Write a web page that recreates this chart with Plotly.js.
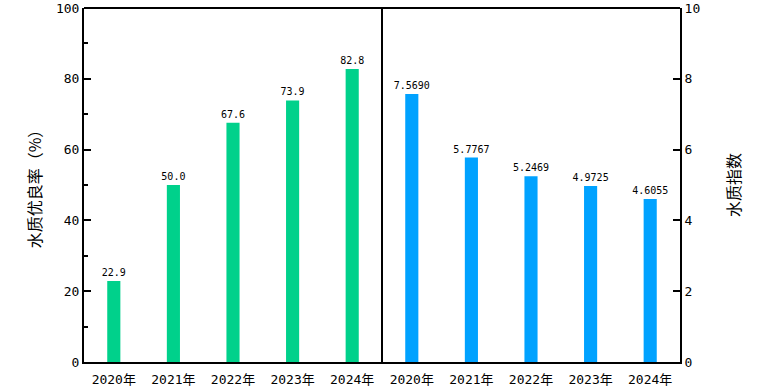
<!DOCTYPE html>
<html><head><meta charset="utf-8">
<script src="https://cdn.plot.ly/plotly-3.0.1.min.js"></script>
<style>html,body{margin:0;padding:0;background:#fff}#chart{width:762px;height:388px}</style>
</head><body><div id="chart"></div>
<script>
const years = ["2020年","2021年","2022年","2023年","2024年"];
const rateValues = [22.9, 50.0, 67.6, 73.9, 82.8];
const rateLabels = ["22.9","50.0","67.6","73.9","82.8"];
const indexValues = [7.5690, 5.7767, 5.2469, 4.9725, 4.6055];
const indexLabels = ["7.5690","5.7767","5.2469","4.9725","4.6055"];
const rateTicks = [0, 20, 40, 60, 80, 100];
const indexTicks = [0, 2, 4, 6, 8, 10];

const cjkFont = "Noto Sans CJK SC, Noto Sans, sans-serif";
const tickFamily = "DejaVu Sans Mono, Noto Sans CJK SC, monospace";
const labelFont = {family: "DejaVu Sans Mono, Liberation Mono, monospace", size: 10, color: "#000"};

const traces = [
  {type: "bar", x: years, y: rateValues, text: rateLabels, textposition: "outside", constraintext: "none",
   textfont: labelFont, cliponaxis: false, marker: {color: "#00D18B"}, width: 0.22,
   xaxis: "x", yaxis: "y", hoverinfo: "none"},
  {type: "bar", x: years, y: indexValues, text: indexLabels, textposition: "outside", constraintext: "none",
   textfont: labelFont, cliponaxis: false, marker: {color: "#00A2FF"}, width: 0.22,
   xaxis: "x2", yaxis: "y2", hoverinfo: "none"}
];

const axisCommon = {showline: true, linecolor: "#000", linewidth: 2, showgrid: false, zeroline: false,
  ticklabeloverflow: "allow", tickfont: {family: tickFamily, size: 13, color: "#000"}};

const layout = {
  width: 762, height: 388,
  margin: {l: 84, r: 82, t: 8, b: 26, pad: 0},
  paper_bgcolor: "#fff", plot_bgcolor: "#fff",
  showlegend: false,
  font: {family: cjkFont, color: "#000"},
  xaxis: Object.assign({}, axisCommon, {domain: [0, 0.5], anchor: "y", ticks: "", type: "category", ticklabelstandoff: 4}),
  xaxis2: Object.assign({}, axisCommon, {domain: [0.5, 1], anchor: "y2", ticks: "", type: "category", ticklabelstandoff: 4}),
  yaxis: Object.assign({}, axisCommon, {anchor: "x", range: [0, 100], tickmode: "array", tickvals: rateTicks,
    ticks: "inside", ticklen: 7, tickwidth: 2, tickcolor: "#000",
    minor: {dtick: 10, ticks: "inside", ticklen: 4, tickwidth: 2, tickcolor: "#000"},
    title: {text: "水质优良率（%）", font: {family: cjkFont, size: 16, color: "#000"}, standoff: 10}}),
  yaxis2: Object.assign({}, axisCommon, {anchor: "x2", side: "right", range: [0, 10], tickmode: "array", tickvals: indexTicks,
    ticks: "inside", ticklen: 7, tickwidth: 2, tickcolor: "#000",
    title: {text: "水质指数", font: {family: cjkFont, size: 16, color: "#000"}, standoff: 30}}),
  shapes: [
    {type: "line", xref: "paper", yref: "paper", x0: 0, x1: 1, y0: 1, y1: 1, line: {color: "#000", width: 2}},
    {type: "line", xref: "paper", yref: "paper", x0: 0.5, x1: 0.5, y0: 0, y1: 1, line: {color: "#000", width: 2}}
  ]
};

Plotly.newPlot("chart", traces, layout, {staticPlot: true, displayModeBar: false});
</script></body></html>
